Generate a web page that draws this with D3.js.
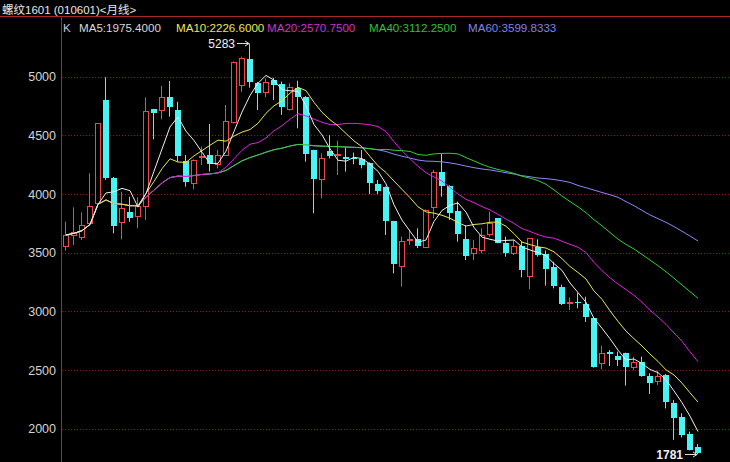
<!DOCTYPE html>
<html><head><meta charset="utf-8">
<script src="https://cdn.jsdelivr.net/npm/d3@7"></script>
<style>html,body{margin:0;padding:0;background:#000;overflow:hidden}</style>
</head><body>
<svg id="c" width="730" height="462"></svg>
<script>
const title = "螺纹1601 (010601)<月线>";
const opens  = [3560,3651,3637,3750,3926,4801,4140,3759,3844,3813,3901,4722,4716,4824,4716,4284,4091,4318,4333,4256,
                4333,4617,4929,5151,4949,4867,4972,4935,4725,4901,4830,4375,4125,4367,4333,4313,4310,4296,4267,4085,
                4063,3770,3389,3614,3620,3551,3892,4191,4071,3855,3617,3495,3523,3656,3793,3580,3500,3557,3301,3551,
                3490,3381,3210,3075,3083,3063,2941,2557,2651,2620,2642,2529,2571,2449,2407,2458,2222,2102,1955,1847];
const highs  = [3764,3887,3844,4176,4605,4995,4145,4020,3977,3972,4824,4725,4921,4963,4787,4333,4295,4404,4597,4375,
                4759,5130,5171,5283,4955,4986,4990,4958,4943,4966,4835,4378,4347,4503,4455,4398,4353,4375,4270,4120,
                4065,3772,3637,3693,3708,3870,4205,4341,4075,3935,3736,3608,3708,3850,3795,3637,3608,3594,3625,3614,
                3520,3423,3228,3118,3160,3125,2945,2705,2671,2657,2648,2614,2614,2472,2495,2466,2244,2131,1975,1869];
const lows   = [3517,3566,3608,3736,3915,4120,3665,3614,3764,3708,3779,4466,4637,4659,4276,4063,4040,4247,4191,4219,
                4330,4602,4872,4906,4716,4824,4801,4674,4710,4560,4276,3835,3963,4304,4162,4191,4253,4219,4000,4000,
                3651,3324,3210,3566,3540,3545,3793,3977,3779,3594,3438,3438,3495,3637,3580,3466,3480,3290,3188,3466,
                3220,3196,3054,3011,3026,2910,2520,2506,2534,2534,2367,2500,2443,2296,2372,2173,1904,1926,1815,1781];
const closes = [3651,3679,3733,3898,4602,4134,3730,3878,3799,3901,4708,4688,4824,4739,4327,4100,4290,4327,4256,4333,
                4622,5128,5156,4958,4860,4952,4929,4745,4915,4830,4340,4130,4304,4324,4341,4301,4296,4247,4093,4029,
                3770,3400,3597,3620,3560,3864,4190,4065,3841,3662,3472,3537,3651,3750,3585,3500,3557,3352,3622,3480,
                3360,3220,3066,3083,3072,2948,2529,2648,2637,2586,2529,2571,2449,2392,2448,2225,2095,1949,1818,1790];
const yTicks = [2000,2500,3000,3500,4000,4500,5000];
const maPeriods = [5,10,20,40,60];
const maColors = ["#f0f0f0","#e8e850","#e020e0","#30d030","#8888ff"];
const maTextColors = ["#d8d8d8","#e8e850","#d030d0","#30c030","#8080e8"];

const W = 730, H = 462;
const svg = d3.select("#c");
svg.append("rect").attr("width",W).attr("height",H).attr("fill","#000");

const x = d3.scaleLinear().domain([0, closes.length-1]).range([66, 698]);
const y = d3.scaleLinear().domain([2000,5000]).range([428.7, 76.7]);

// grid
svg.append("g").selectAll("line").data(yTicks).join("line")
  .attr("x1",62).attr("x2",W)
  .attr("y1",d=>Math.round(y(d))+0.5).attr("y2",d=>Math.round(y(d))+0.5)
  .attr("stroke","#8a1c1c").attr("stroke-dasharray","1,2");

// frame lines
svg.append("line").attr("x1",0).attr("x2",W).attr("y1",16.5).attr("y2",16.5).attr("stroke","#a82828");
svg.append("line").attr("x1",61.5).attr("x2",61.5).attr("y1",16).attr("y2",H).attr("stroke","#a82828");

// y axis labels
const ax = svg.append("g").attr("transform","translate(61,0)")
  .call(d3.axisLeft(y).tickValues(yTicks).tickSize(0).tickPadding(5).tickFormat(d3.format("d")));
ax.select(".domain").remove();
ax.selectAll("text").attr("fill","#d4d4d4").style("font-family","'Liberation Sans',Arial,sans-serif")
  .style("font-size","12.5px");

// title
svg.append("text").attr("x",2).attr("y",14).attr("fill","#e8e8e8")
  .style("font-family","'Liberation Sans','Noto Sans CJK SC',sans-serif").style("font-size","11.5px").text(title);

// MAs (expanding window at the start)
function ma(n){ return closes.map((c,i)=>{ const s=Math.max(0,i-n+1); return d3.mean(closes.slice(s,i+1)); }); }
const mas = maPeriods.map(ma);

// legend
const legX = [63,79,176,267,369,468];
const leg = svg.append("g").style("font-family","'Liberation Sans',Arial,sans-serif").style("font-size","11.6px");
leg.append("text").attr("x",legX[0]).attr("y",32).attr("fill","#c8c8c8").text("K");
maPeriods.forEach((p,k)=>{
  leg.append("text").attr("x",legX[k+1]).attr("y",32).attr("fill",maTextColors[k])
    .text("MA"+p+":"+mas[k][mas[k].length-1].toFixed(4));
});

// candles
const up = "#f04848", dn = "#48f4f4";
const idx = d3.range(closes.length);
const g = svg.append("g");
idx.forEach(i=>{
  const c = x(i), isUp = closes[i] >= opens[i];
  const col = isUp ? up : dn;
  g.append("line").attr("x1",c-0.5).attr("x2",c-0.5).attr("y1",y(highs[i])).attr("y2",y(lows[i]))
    .attr("stroke",col).attr("stroke-width",1);
  const yt = y(Math.max(opens[i],closes[i])), yb = y(Math.min(opens[i],closes[i]));
  if (isUp) {
    const t = Math.round(yt)+0.5, b = Math.max(Math.round(yb)+0.5, t+1);
    g.append("rect").attr("x",c-2.5).attr("y",t).attr("width",5).attr("height",b-t)
      .attr("fill","#000").attr("stroke",col).attr("stroke-width",1);
  } else {
    const t = Math.round(yt), b = Math.max(Math.round(yb), t+1);
    g.append("rect").attr("x",c-3).attr("y",t).attr("width",6).attr("height",b-t).attr("fill",col);
  }
});

// MA lines
const line = d3.line().x((v,i)=>x(i)).y(v=>y(v));
for (let k=maPeriods.length-1;k>=0;k--){
  svg.append("path").attr("d",line(mas[k])).attr("fill","none").attr("stroke",maColors[k]).attr("stroke-width",1);
}

// max / min labels
const iMax = d3.maxIndex(highs), iMin = d3.minIndex(lows);
function marker(i, v, bold){
  const xc = x(i)-1, yc = Math.round(y(v))+0.5;
  svg.append("line").attr("x1",xc-12).attr("x2",xc).attr("y1",yc).attr("y2",yc).attr("stroke","#e0e0e0");
  svg.append("path").attr("d",`M${xc},${yc} l-4,-2.5 M${xc},${yc} l-4,2.5`).attr("stroke","#e0e0e0").attr("fill","none");
  svg.append("text").attr("x",xc-14).attr("y",yc).attr("dy","0.35em").attr("text-anchor","end")
    .attr("fill","#f0f0f0").style("font-family","'Liberation Sans',Arial,sans-serif")
    .style("font-size","12px").style("font-weight",bold?"bold":"normal").text(v);
}
marker(iMax, highs[iMax], false);
marker(iMin, lows[iMin], true);
</script>
</body></html>
